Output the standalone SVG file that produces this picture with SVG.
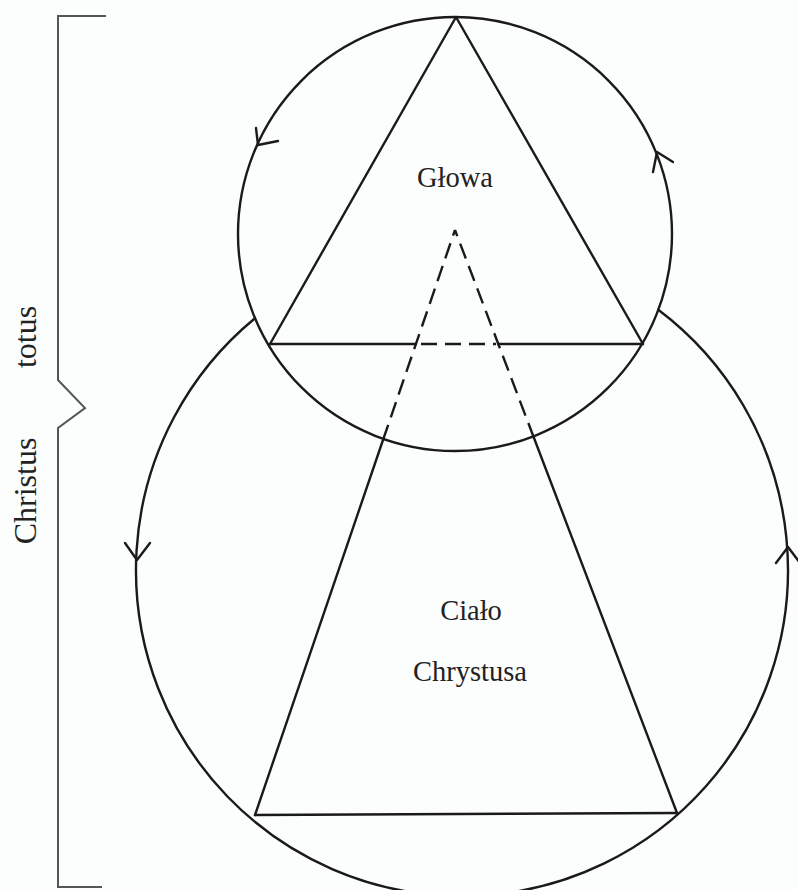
<svg xmlns="http://www.w3.org/2000/svg" width="798" height="890" viewBox="0 0 798 890">
<style>
.ln{fill:none;stroke:#1a1a1a;stroke-width:2.4;stroke-linecap:round;stroke-linejoin:round}
.ds{fill:none;stroke:#1a1a1a;stroke-width:2.4;stroke-dasharray:16 8}
.br{fill:none;stroke:#555;stroke-width:2}
.tx{font-family:"Liberation Serif","Times New Roman",serif;fill:#222;text-anchor:middle}
</style>
<rect width="798" height="890" fill="#fcfdfd"/>
<g id="bracket">
<polyline class="br" points="106,16 58,16 58,380 85,408 58,428 58,887 102,887"/>
<text class="tx" font-size="32" transform="translate(36,337) rotate(-90)">totus</text>
<text class="tx" font-size="32" transform="translate(36,491) rotate(-90)">Christus</text>
</g>
<g id="head">
<circle class="ln" cx="455" cy="234" r="217"/>
<polyline class="ln" points="270,344 456,17 643,344"/>
<line class="ln" x1="270" y1="344" x2="416" y2="344"/>
<line class="ln" x1="498" y1="344" x2="643" y2="344"/>
<text class="tx" font-size="28.5" x="455" y="187">Głowa</text>
</g>
<g id="body">
<path class="ln" d="M255,318.2 A326,326 0 1 0 658.3,309.8"/>
<line class="ln" x1="255" y1="815" x2="383" y2="440"/>
<line class="ln" x1="677" y1="813" x2="534" y2="438"/>
<line class="ln" x1="255" y1="815" x2="677" y2="813"/>
<text class="tx" font-size="28.5" x="471" y="620">Ciało</text>
<text class="tx" font-size="28.5" x="470" y="681">Chrystusa</text>
</g>
<g id="hidden">
<line class="ds" x1="383" y1="440" x2="455" y2="230"/>
<line class="ds" x1="534" y1="438" x2="455" y2="230"/>
<line class="ds" x1="421" y1="344" x2="496" y2="344"/>
</g>
<g id="connectors">
<polyline class="ln" points="256,128 258,145 278,141"/>
<polyline class="ln" points="653,172 657,152 673,162"/>
<polyline class="ln" points="125,543 137,560 150,543"/>
<polyline class="ln" points="776,563 788,547 800,563"/>
</g>
</svg>
